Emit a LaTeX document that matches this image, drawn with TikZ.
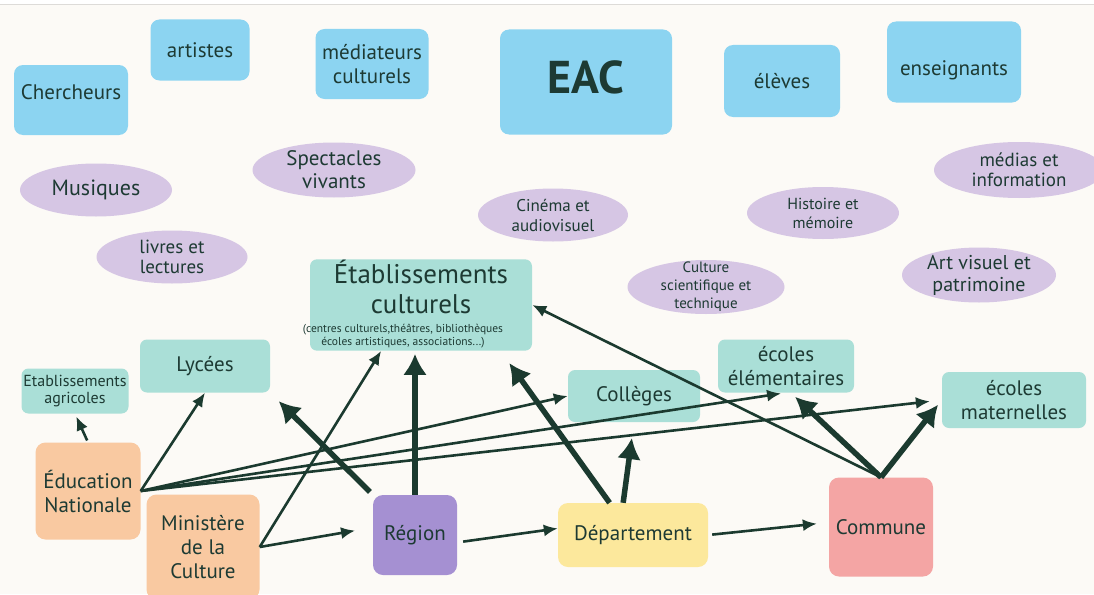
\documentclass[tikz,border=0pt]{standalone}
\usepackage{fontspec}
\setmainfont{PT Sans}
\usetikzlibrary{arrows.meta,shapes.geometric}

\definecolor{ink}{HTML}{1D3A33}
\definecolor{paper}{HTML}{FCFAF6}
\definecolor{rulegrey}{HTML}{DDDBD8}
\definecolor{skyblue}{HTML}{8CD4F1}
\definecolor{lilac}{HTML}{D6C6E4}
\definecolor{mint}{HTML}{AADFD7}
\definecolor{peach}{HTML}{F9C9A1}
\definecolor{regviolet}{HTML}{A590D2}
\definecolor{butter}{HTML}{FCE89C}
\definecolor{salmon}{HTML}{F4A5A4}
\definecolor{arrowgreen}{HTML}{1B3A2F}

\newcommand{\etabsmall}{\fontsize{11.5}{13}\selectfont}

\tikzset{
  lbl/.style={align=center,text=ink,inner sep=1pt,font=\fontsize{21}{24}\selectfont},
  actor/.style={lbl,rounded corners=9pt,fill=skyblue},
  theme/.style={ellipse,fill=lilac,inner sep=0pt},
  venue/.style={lbl,rounded corners=7pt,fill=mint},
  level/.style={lbl,rounded corners=10pt},
  link/.style={-{Latex[length=14pt,width=12pt]},line width=2.6pt,draw=arrowgreen},
  heavy/.style={-{Latex[length=21pt,width=24pt]},line width=5.5pt,draw=arrowgreen}
}

\begin{document}
\begin{tikzpicture}[x=1pt,y=-1pt]
\useasboundingbox (0,0) rectangle (1094,594);
\fill[paper] (0,0) rectangle (1094,594);
\fill[white] (0,0) rectangle (1094,4);
\draw[rulegrey,line width=1pt] (0,4.5) -- (1094,4.5);

% acteurs
\node[actor,minimum width=114pt,minimum height=70pt,text depth=16pt] (cher) at (71,100) {Chercheurs};
\node[actor,minimum width=99pt,minimum height=61pt] (art) at (200,50) {artistes};
\node[actor,minimum width=113pt,minimum height=70pt] (med) at (372,64) {médiateurs\\culturels};
\node[actor,minimum width=172pt,minimum height=105pt,text depth=10pt,font=\bfseries\fontsize{46}{50}\selectfont] (eac) at (586,82) {EAC};
\node[actor,minimum width=116pt,minimum height=72pt] (elv) at (782,81) {élèves};
\node[actor,minimum width=134pt,minimum height=81pt,text height=31pt] (ens) at (954,62) {enseignants};

% domaines
\node[theme,minimum width=152pt,minimum height=53pt,
  label={[lbl,font=\fontsize{22}{24}\selectfont]center:Musiques}] (mus) at (96,190) {};
\node[theme,minimum width=163pt,minimum height=55pt,
  label={[lbl,font=\fontsize{21}{23}\selectfont]center:Spectacles\\vivants}] (spec) at (334,170) {};
\node[theme,minimum width=151pt,minimum height=53pt,
  label={[lbl,font=\fontsize{19}{20}\selectfont]center:livres et\\lectures}] (liv) at (172,257) {};
\node[theme,minimum width=150pt,minimum height=53pt,
  label={[lbl,font=\fontsize{17}{20}\selectfont]center:Cinéma et\\audiovisuel}] (cine) at (553,215) {};
\node[theme,minimum width=152pt,minimum height=52pt,
  label={[lbl,font=\fontsize{16}{19}\selectfont]center:Histoire et\\mémoire}] (hist) at (823,213) {};
\node[theme,minimum width=170pt,minimum height=56pt,
  label={[lbl,font=\fontsize{19}{20}\selectfont]center:médias et\\information}] (medias) at (1019,170) {};
\node[theme,minimum width=157pt,minimum height=54pt,
  label={[lbl,font=\fontsize{15}{18}\selectfont]center:Culture\\scientifique et\\technique}] (cult) at (706,287) {};
\node[theme,minimum width=154pt,minimum height=55pt,
  label={[lbl,font=\fontsize{20}{22}\selectfont]center:Art visuel et\\patrimoine}] (artv) at (979,275) {};

% lieux
\node[venue,minimum width=222pt,minimum height=91pt,font=\fontsize{27}{30}\selectfont] (etab) at (421,305)
  {Établissements\\culturels\\[-11pt]{\etabsmall\hspace*{-36pt}\begin{tabular}[t]{@{}c@{}}(centres culturels,théâtres, bibliothèques\\écoles artistiques, associations...)\end{tabular}}};
\node[venue,minimum width=130pt,minimum height=53pt] (lyc) at (205,366) {Lycées};
\node[venue,minimum width=107pt,minimum height=45pt,font=\fontsize{16}{17}\selectfont] (agr) at (75,391) {Etablissements\\agricoles};
\node[venue,minimum width=132pt,minimum height=52pt] (col) at (634,396) {Collèges};
\node[venue,minimum width=136pt,minimum height=53pt] (ele) at (786,366) {écoles\\élémentaires};
\node[venue,minimum width=144pt,minimum height=56pt] (mat) at (1014,400) {écoles\\maternelles};

% tutelles
\node[level,fill=peach,minimum width=105pt,minimum height=97pt] (en) at (88,491) {Éducation\\Nationale};
\node[level,fill=peach,minimum width=113pt,minimum height=105pt] (min) at (203,547) {Ministère\\de la\\Culture};
\node[level,fill=regviolet,minimum width=84pt,minimum height=80pt] (reg) at (415,535) {Région};
\node[level,fill=butter,minimum width=150pt,minimum height=64pt] (dep) at (633,535) {Département};
\node[level,fill=salmon,minimum width=104pt,minimum height=99pt] (com) at (881,527) {Commune};

% fleches
\draw[link,shorten <=2pt,shorten >=3pt] (en.north) -- (agr.south);
\draw[link] (en.east) -- (lyc.south);
\draw[link] (en.east) -- (col.west);
\draw[link,shorten >=5pt] (en.east) -- (ele.south);
\draw[link,shorten >=12pt] (en.east) -- (mat.west);
\draw[link,shorten >=18pt] (min.east) -- (reg.170);
\draw[link] (min.east) -- (etab.229);
\draw[link,shorten <=6pt] (reg.-10) -- (dep.175);
\draw[link,shorten <=4pt,shorten >=12pt] (dep.east) -- (com.175);
\draw[link] (com.north) -- (etab.east);
\draw[heavy,shorten <=4pt,shorten >=12pt] (reg.north west) -- (lyc.south east);
\draw[heavy,shorten >=3pt] (reg.north) -- (reg.north |- etab.south);
\draw[heavy,shorten >=15pt] (dep.126) -- (etab.-30);
\draw[heavy,shorten >=16pt] (dep.107) -- (col.south);
\draw[heavy,shorten >=6pt] (com.north) -- (ele.-80);
\draw[heavy,shorten >=6pt] (com.north) -- (mat.west);
\end{tikzpicture}
\end{document}
